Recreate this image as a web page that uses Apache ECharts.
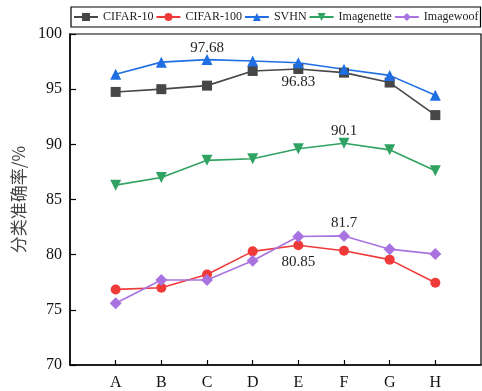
<!DOCTYPE html>
<html>
<head>
<meta charset="utf-8">
<script src="https://cdn.jsdelivr.net/npm/echarts@6/dist/echarts.min.js"></script>
<style>
  html, body { margin: 0; padding: 0; background: #fff; }
  #chart { width: 482px; height: 391px; }
</style>
</head>
<body>
<div id="chart"></div>
<script>
// categories and series values
const categories = ['A', 'B', 'C', 'D', 'E', 'F', 'G', 'H'];
const cifar10 = [94.75, 95.0, 95.32, 96.65, 96.83, 96.5, 95.6, 92.65];
const cifar100 = [76.85, 77.0, 78.2, 80.3, 80.85, 80.35, 79.55, 77.45];
const svhn = [96.35, 97.45, 97.68, 97.55, 97.4, 96.8, 96.25, 94.45];
const imagenette = [86.3, 87.0, 88.55, 88.7, 89.6, 90.1, 89.5, 87.6];
const imagewoof = [75.6, 77.7, 77.7, 79.45, 81.65, 81.7, 80.5, 80.05];

// which point of each series carries a value label
const annotations = {
  'CIFAR-10': { index: 4, position: 'bottom', distance: 1 },
  'CIFAR-100': { index: 4, position: 'bottom', distance: 4 },
  'SVHN': { index: 2, position: 'top', distance: -1 },
  'Imagenette': { index: 5, position: 'top', distance: -1 },
  'Imagewoof': { index: 5, position: 'top', distance: -1 }
};

const fontFamily = '"Liberation Serif", "Times New Roman", serif';

function buildSeries(name, values, color, symbol, symbolSize) {
  const note = annotations[name];
  return {
    name: name,
    type: 'line',
    symbol: symbol,
    symbolSize: symbolSize,
    lineStyle: { width: 1.6, color: color },
    itemStyle: { color: color },
    data: values.map((v, i) => {
      const item = { value: [i + 1, v] };
      if (note && note.index === i) {
        item.label = {
          show: true,
          position: note.position,
          distance: note.distance,
          formatter: String(v),
          color: '#222',
          fontSize: 15,
          fontFamily: fontFamily
        };
      }
      return item;
    })
  };
}

const chart = echarts.init(document.getElementById('chart'));

const option = {
  animation: false,
  textStyle: { fontFamily: fontFamily },
  legend: {
    left: 71,
    top: 7,
    padding: [4, 2],
    itemGap: 2,
    itemWidth: 24,
    itemHeight: 10,
    borderColor: '#000',
    borderWidth: 1.2,
    textStyle: { fontSize: 12, color: '#222', fontFamily: fontFamily },
    data: ['CIFAR-10', 'CIFAR-100', 'SVHN', 'Imagenette', 'Imagewoof']
  },
  grid: {
    left: 70,
    right: 1,
    top: 34,
    bottom: 25,
    show: true,
    borderColor: '#000',
    borderWidth: 1.2
  },
  xAxis: {
    type: 'value',
    min: 0,
    max: 9,
    interval: 1,
    axisLine: { lineStyle: { color: '#000', width: 1.5 } },
    axisTick: {
      inside: true,
      length: 5,
      lineStyle: { color: '#000', width: 1.2 },
      customValues: [1, 2, 3, 4, 5, 6, 7, 8]
    },
    axisLabel: {
      fontSize: 16,
      color: '#111',
      margin: 10,
      fontFamily: fontFamily,
      customValues: [1, 2, 3, 4, 5, 6, 7, 8],
      formatter: v => categories[v - 1] || ''
    },
    splitLine: { show: false }
  },
  yAxis: {
    type: 'value',
    min: 70,
    max: 100,
    interval: 5,
    name: '分类准确率/%',
    nameLocation: 'middle',
    nameGap: 40,
    nameTextStyle: {
      fontSize: 17,
      color: '#444',
      fontFamily: '"Noto Sans CJK SC", sans-serif'
    },
    axisLine: { show: true, lineStyle: { color: '#000', width: 1.5 } },
    axisTick: { show: true, inside: true, length: 6, lineStyle: { color: '#000', width: 1.2 } },
    axisLabel: { fontSize: 16, color: '#111', margin: 8, fontFamily: fontFamily },
    splitLine: { show: false }
  },
  series: [
    buildSeries('CIFAR-10', cifar10, '#474747', 'rect', 10),
    buildSeries('CIFAR-100', cifar100, '#f03a3a', 'circle', 10),
    buildSeries('SVHN', svhn, '#1f6fe3', 'triangle', 11),
    buildSeries('Imagenette', imagenette, '#30a362', 'path://M0,0 L10,0 L5,9 Z', 11),
    buildSeries('Imagewoof', imagewoof, '#a873e0', 'diamond', 12)
  ]
};

chart.setOption(option);
</script>
</body>
</html>
